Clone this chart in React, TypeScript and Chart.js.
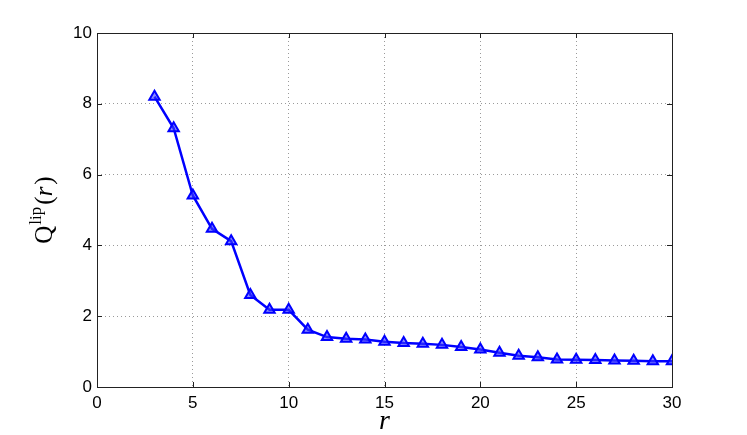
import React, { useEffect, useRef } from "react";
import { Chart, registerables } from "chart.js";

Chart.register(...registerables);

const rValues = [3, 4, 5, 6, 7, 8, 9, 10, 11, 12, 13, 14, 15, 16, 17, 18, 19, 20, 21, 22, 23, 24, 25, 26, 27, 28, 29, 30];
const qValues = [8.2, 7.31, 5.41, 4.47, 4.12, 2.6, 2.18, 2.18, 1.62, 1.41, 1.36, 1.34, 1.28, 1.24, 1.22, 1.19, 1.13, 1.06, 0.97, 0.88, 0.84, 0.78, 0.77, 0.76, 0.75, 0.74, 0.73, 0.73];
const xTicks = [0, 5, 10, 15, 20, 25, 30];
const yTicks = [0, 2, 4, 6, 8, 10];

const W = 747;
const H = 435;
const LEFT = 97;
const TOP = 33;
const RIGHT = 672;
const BOTTOM = 387;

const framePlugin = {
  id: "frame",
  afterDraw(chart: any) {
    const { ctx, chartArea: a, scales } = chart;
    const xs = scales.x;
    const ys = scales.y;
    ctx.save();
    ctx.strokeStyle = "#222";
    ctx.lineWidth = 1;
    // inward ticks
    ctx.beginPath();
    for (const t of xTicks) {
      const px = Math.round(xs.getPixelForValue(t)) + 0.5;
      ctx.moveTo(px, a.bottom);
      ctx.lineTo(px, a.bottom - 5);
      ctx.moveTo(px, a.top);
      ctx.lineTo(px, a.top + 5);
    }
    for (const t of yTicks) {
      const py = Math.round(ys.getPixelForValue(t)) + 0.5;
      ctx.moveTo(a.left, py);
      ctx.lineTo(a.left + 5, py);
      ctx.moveTo(a.right, py);
      ctx.lineTo(a.right - 5, py);
    }
    ctx.stroke();
    ctx.strokeRect(Math.round(a.left) + 0.5, Math.round(a.top) + 0.5, Math.round(a.right - a.left), Math.round(a.bottom - a.top));
    ctx.restore();

    // x label
    ctx.save();
    ctx.fillStyle = "#000";
    ctx.font = "italic 28px 'Liberation Serif', 'DejaVu Serif', serif";
    ctx.textAlign = "center";
    ctx.textBaseline = "alphabetic";
    ctx.fillText("r", (a.left + a.right) / 2, 429);
    ctx.restore();

    // y label
    ctx.save();
    ctx.translate(52, 210);
    ctx.rotate(-Math.PI / 2);
    ctx.fillStyle = "#000";
    ctx.textBaseline = "alphabetic";
    const fBig = "25px 'Liberation Serif', 'DejaVu Serif', serif";
    const fSup = "17px 'Liberation Serif', 'DejaVu Serif', serif";
    const fIt = "italic 25px 'Liberation Serif', 'DejaVu Serif', serif";
    const parts: [string, string, number][] = [
      ["Q", fBig, 0],
      ["lip", fSup, -11],
      ["(", fBig, 0],
      ["r", fIt, 0],
      [")", fBig, 0],
    ];
    let total = 0;
    const widths: number[] = [];
    for (const [s, f] of parts) {
      ctx.font = f;
      const w = ctx.measureText(s).width + (s === "lip" ? 3 : s === "r" ? 2 : 0);
      widths.push(w);
      total += w;
    }
    let x = -total / 2;
    parts.forEach(([s, f, dy], i) => {
      ctx.font = f;
      ctx.fillText(s, x + (s === "lip" ? 1 : 0), dy);
      x += widths[i];
    });
    ctx.restore();
  },
};

export default function App() {
  const ref = useRef<HTMLCanvasElement | null>(null);
  useEffect(() => {
    if (!ref.current) return;
    const chart = new Chart(ref.current, {
      type: "line",
      data: {
        datasets: [
          {
            data: rValues.map((r, i) => ({ x: r, y: qValues[i] })),
            borderColor: "#0000ff",
            borderWidth: 2.5,
            pointStyle: "triangle",
            pointRadius: 6,
            pointBorderWidth: 2,
            pointBackgroundColor: "rgba(60,60,255,0.6)",
            pointBorderColor: "#0000ff",
            tension: 0,
            fill: false,
          },
        ],
      },
      options: {
        responsive: false,
        animation: false,
        devicePixelRatio: 1,
        layout: { padding: { left: 0, top: TOP, right: W - RIGHT, bottom: 0 } },
        plugins: { legend: { display: false }, tooltip: { enabled: false } },
        scales: {
          x: {
            type: "linear",
            min: 0,
            max: 30,
            afterBuildTicks: (s: any) => {
              s.ticks = xTicks.map((v) => ({ value: v }));
            },
            afterFit: (s: any) => {
              s.height = H - BOTTOM;
            },
            grid: {
              color: (c: any) => (c.tick && (c.tick.value === 0 || c.tick.value === 30) ? "rgba(0,0,0,0)" : "#9a9a9a"),
              drawTicks: false,
              lineWidth: 1,
            },
            border: { display: false, dash: [1, 3] },
            ticks: {
              padding: 6,
              color: "#000",
              font: { family: "'Liberation Sans', Arial, sans-serif", size: 17 },
              maxRotation: 0,
            },
          },
          y: {
            type: "linear",
            min: 0,
            max: 10,
            afterBuildTicks: (s: any) => {
              s.ticks = yTicks.map((v) => ({ value: v }));
            },
            afterFit: (s: any) => {
              s.width = LEFT;
            },
            grid: {
              color: (c: any) => (c.tick && (c.tick.value === 0 || c.tick.value === 10) ? "rgba(0,0,0,0)" : "#9a9a9a"),
              drawTicks: false,
              lineWidth: 1,
            },
            border: { display: false, dash: [1, 3] },
            ticks: {
              padding: 5,
              color: "#000",
              font: { family: "'Liberation Sans', Arial, sans-serif", size: 17 },
            },
          },
        },
      },
      plugins: [framePlugin],
    } as any);
    return () => chart.destroy();
  }, []);
  return (
    <div style={{ position: "fixed", left: 0, top: 0, width: W, height: H, background: "#fff" }}>
      <canvas ref={ref} width={W} height={H} style={{ display: "block", width: W, height: H }} />
    </div>
  );
}
